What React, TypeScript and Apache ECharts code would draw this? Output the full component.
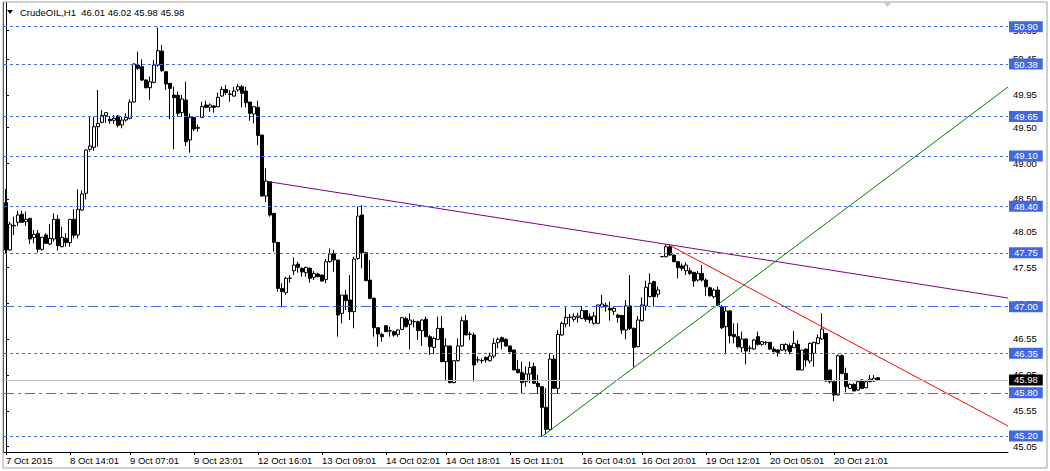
import { useEffect, useRef } from "react";
import * as echarts from "echarts";

// [open, close, low, high] for each hourly bar, oldest first
const candles: number[][] = [
  [48.449, 47.79, 47.743, 48.639],
  [47.79, 48.152, 47.78, 48.184],
  [48.124, 48.133, 47.999, 48.254],
  [48.175, 48.277, 48.124, 48.338],
  [48.287, 48.175, 48.17, 48.338],
  [48.184, 48.217, 48.124, 48.324],
  [48.231, 47.943, 47.873, 48.231],
  [47.961, 48.008, 47.882, 48.068],
  [48.022, 47.799, 47.752, 48.068],
  [47.799, 47.966, 47.78, 47.975],
  [47.999, 47.882, 47.873, 48.022],
  [47.873, 47.952, 47.859, 48.152],
  [47.943, 48.217, 47.906, 48.3],
  [48.217, 47.85, 47.78, 48.277],
  [47.836, 47.966, 47.827, 48.115],
  [47.952, 47.892, 47.836, 48.022],
  [47.892, 48.217, 47.836, 48.217],
  [48.217, 47.994, 47.952, 48.356],
  [48.0, 48.356, 47.952, 48.635],
  [48.347, 48.57, 48.337, 48.616],
  [48.579, 49.182, 48.495, 49.192],
  [49.192, 49.238, 49.159, 49.647],
  [49.22, 49.507, 49.173, 49.647],
  [49.507, 49.554, 49.229, 50.018],
  [49.568, 49.665, 49.554, 49.74],
  [49.661, 49.702, 49.563, 49.702],
  [49.61, 49.591, 49.545, 49.656],
  [49.596, 49.623, 49.545, 49.67],
  [49.656, 49.526, 49.498, 49.67],
  [49.531, 49.6, 49.484, 49.647],
  [49.6, 49.637, 49.577, 49.693],
  [49.623, 49.851, 49.609, 49.888],
  [49.851, 50.38, 49.842, 50.389],
  [50.366, 50.32, 50.297, 50.552],
  [50.343, 50.157, 50.143, 50.445],
  [50.157, 50.05, 50.041, 50.167],
  [50.05, 50.134, 49.879, 50.204],
  [50.125, 50.366, 50.111, 50.436],
  [50.366, 50.566, 50.343, 50.891],
  [50.561, 50.287, 50.273, 50.645],
  [50.273, 50.101, 50.018, 50.273],
  [50.111, 50.041, 49.61, 50.111],
  [49.948, 49.911, 49.192, 50.064],
  [49.944, 49.693, 49.647, 49.995],
  [49.702, 49.893, 49.647, 49.948],
  [49.879, 49.298, 49.238, 50.134],
  [49.322, 49.637, 49.145, 49.693],
  [49.637, 49.475, 49.447, 49.637],
  [49.484, 49.498, 49.438, 49.54],
  [49.637, 49.786, 49.633, 49.855],
  [49.809, 49.777, 49.763, 49.869],
  [49.777, 49.809, 49.716, 49.832],
  [49.795, 49.777, 49.702, 49.809],
  [49.786, 49.916, 49.777, 49.981],
  [49.934, 50.027, 49.925, 50.064],
  [50.027, 49.981, 49.948, 50.087],
  [49.962, 49.958, 49.855, 50.018],
  [49.934, 50.004, 49.925, 50.064],
  [50.018, 50.064, 49.995, 50.101],
  [50.064, 49.971, 49.776, 50.087],
  [50.004, 49.841, 49.776, 50.064],
  [49.85, 49.693, 49.59, 49.85],
  [49.683, 49.786, 49.553, 49.786],
  [49.776, 49.386, 49.252, 49.869],
  [49.391, 48.541, 48.532, 49.391],
  [48.541, 48.75, 48.462, 48.927],
  [48.741, 48.277, 48.253, 48.75],
  [48.3, 47.896, 47.766, 48.3],
  [47.896, 47.255, 47.209, 47.896],
  [47.255, 47.209, 46.99, 47.325],
  [47.195, 47.395, 47.162, 47.418],
  [47.395, 47.398, 47.334, 47.441],
  [47.501, 47.58, 47.441, 47.687],
  [47.594, 47.548, 47.473, 47.627],
  [47.534, 47.483, 47.418, 47.548],
  [47.473, 47.548, 47.418, 47.557],
  [47.534, 47.395, 47.334, 47.548],
  [47.409, 47.464, 47.371, 47.497],
  [47.455, 47.418, 47.409, 47.473],
  [47.441, 47.357, 47.348, 47.441],
  [47.38, 47.627, 47.325, 47.664],
  [47.627, 47.734, 47.613, 47.812],
  [47.743, 47.65, 47.488, 47.789],
  [47.65, 46.884, 46.582, 47.65],
  [46.907, 47.162, 46.768, 47.162],
  [47.162, 47.083, 46.953, 47.232],
  [47.093, 46.93, 46.814, 47.441],
  [46.93, 47.664, 46.698, 47.696],
  [47.673, 48.263, 47.65, 48.393],
  [48.277, 47.752, 47.534, 48.416],
  [47.752, 47.362, 47.362, 47.766],
  [47.371, 47.116, 47.102, 47.65],
  [47.116, 46.707, 46.582, 47.13],
  [46.707, 46.619, 46.443, 46.707],
  [46.614, 46.582, 46.512, 46.638],
  [46.735, 46.652, 46.652, 46.744],
  [46.666, 46.661, 46.582, 46.721],
  [46.652, 46.605, 46.582, 46.666],
  [46.614, 46.675, 46.582, 46.684],
  [46.684, 46.847, 46.675, 46.861],
  [46.833, 46.721, 46.712, 46.861],
  [46.754, 46.814, 46.405, 46.907],
  [46.79, 46.792, 46.712, 46.824],
  [46.79, 46.666, 46.536, 46.805],
  [46.666, 46.814, 46.452, 46.824],
  [46.824, 46.582, 46.573, 46.861],
  [46.582, 46.443, 46.327, 46.605],
  [46.433, 46.559, 46.34, 46.582],
  [46.545, 46.698, 46.536, 46.861],
  [46.698, 46.234, 46.234, 46.87],
  [46.234, 46.453, 45.979, 46.56],
  [46.453, 45.942, 45.933, 46.453],
  [45.942, 46.248, 45.933, 46.248],
  [46.248, 46.453, 46.234, 46.56],
  [46.453, 46.805, 46.443, 46.861],
  [46.805, 46.606, 46.606, 46.884],
  [46.615, 46.617, 46.536, 46.652],
  [46.606, 46.188, 45.956, 46.638],
  [46.258, 46.26, 46.221, 46.304],
  [46.248, 46.25, 46.211, 46.281],
  [46.295, 46.258, 46.221, 46.304],
  [46.248, 46.313, 46.234, 46.36],
  [46.313, 46.49, 46.281, 46.56],
  [46.499, 46.545, 46.42, 46.573],
  [46.568, 46.513, 46.406, 46.582],
  [46.545, 46.453, 46.443, 46.559],
  [46.453, 46.374, 46.36, 46.453],
  [46.397, 46.118, 46.118, 46.397],
  [46.128, 46.081, 46.072, 46.258],
  [46.081, 45.942, 45.793, 46.234],
  [45.956, 46.063, 45.886, 46.165],
  [46.063, 46.155, 45.933, 46.234],
  [46.165, 45.933, 45.933, 46.221],
  [45.933, 45.886, 45.784, 46.049],
  [45.886, 45.598, 45.19, 45.886],
  [45.598, 45.292, 45.227, 45.863],
  [45.292, 46.271, 45.273, 46.35],
  [46.271, 45.863, 45.863, 46.327],
  [45.863, 46.615, 45.793, 46.675],
  [46.606, 46.768, 46.592, 46.791],
  [46.759, 46.852, 46.712, 46.991],
  [46.852, 46.854, 46.722, 46.898],
  [46.824, 46.861, 46.791, 46.907],
  [46.852, 46.87, 46.778, 46.917],
  [46.838, 46.945, 46.824, 47.01],
  [46.945, 46.824, 46.791, 46.954],
  [46.861, 46.814, 46.768, 46.907],
  [46.768, 46.87, 46.745, 46.93],
  [46.768, 47.024, 46.759, 47.024],
  [46.998, 47.037, 46.991, 47.163],
  [47.019, 47.0, 46.93, 47.056],
  [46.977, 46.954, 46.805, 47.07],
  [46.935, 46.977, 46.884, 47.01],
  [46.884, 46.852, 46.778, 46.898],
  [46.879, 46.675, 46.62, 46.884],
  [46.675, 47.01, 46.545, 47.093],
  [47.01, 46.698, 46.675, 47.441],
  [46.698, 46.434, 46.155, 46.712],
  [46.443, 46.815, 46.434, 46.87],
  [46.805, 47.024, 46.791, 47.13],
  [47.01, 47.27, 46.945, 47.363],
  [47.14, 47.325, 47.13, 47.465],
  [47.349, 47.14, 47.0, 47.363],
  [47.172, 47.233, 47.13, 47.279],
  [47.696, 47.698, 47.69, 47.7],
  [47.696, 47.835, 47.687, 47.868],
  [47.835, 47.719, 47.71, 47.868],
  [47.719, 47.627, 47.617, 47.729],
  [47.627, 47.543, 47.394, 47.636],
  [47.566, 47.534, 47.497, 47.603],
  [47.501, 47.58, 47.441, 47.617],
  [47.501, 47.464, 47.441, 47.543],
  [47.478, 47.357, 47.278, 47.487],
  [47.371, 47.464, 47.348, 47.497],
  [47.464, 47.371, 47.348, 47.58],
  [47.371, 47.278, 47.153, 47.394],
  [47.264, 47.153, 47.139, 47.278],
  [47.139, 47.232, 47.116, 47.255],
  [47.232, 47.023, 47.014, 47.278],
  [46.998, 46.707, 46.689, 47.023],
  [46.721, 46.94, 46.336, 46.998],
  [46.94, 46.596, 46.489, 46.954],
  [46.614, 46.582, 46.489, 46.768],
  [46.582, 46.443, 46.42, 46.768],
  [46.429, 46.55, 46.364, 46.652],
  [46.55, 46.382, 46.197, 46.559],
  [46.42, 46.422, 46.364, 46.457],
  [46.41, 46.536, 46.397, 46.55],
  [46.582, 46.475, 46.457, 46.652],
  [46.475, 46.512, 46.457, 46.522],
  [46.499, 46.503, 46.466, 46.522],
  [46.503, 46.41, 46.397, 46.512],
  [46.41, 46.373, 46.364, 46.443],
  [46.396, 46.364, 46.304, 46.41],
  [46.396, 46.475, 46.382, 46.475],
  [46.396, 46.475, 46.364, 46.489],
  [46.457, 46.373, 46.336, 46.489],
  [46.429, 46.489, 46.429, 46.661],
  [46.475, 46.118, 46.118, 46.536],
  [46.118, 46.396, 46.118, 46.396],
  [46.41, 46.257, 46.164, 46.419],
  [46.243, 46.489, 46.21, 46.503],
  [46.35, 46.503, 46.164, 46.512],
  [46.489, 46.568, 46.475, 46.614],
  [46.55, 46.689, 46.536, 46.907],
  [46.628, 45.965, 45.955, 46.628],
  [46.118, 45.955, 45.932, 46.118],
  [45.955, 45.77, 45.686, 45.955],
  [45.77, 46.317, 45.76, 46.336],
  [46.317, 46.071, 46.057, 46.336],
  [46.071, 45.886, 45.807, 46.15],
  [45.862, 45.918, 45.853, 45.932],
  [45.918, 45.825, 45.825, 45.932],
  [45.839, 45.955, 45.825, 45.978],
  [45.978, 45.862, 45.853, 45.992],
  [45.872, 45.955, 45.862, 45.965],
  [45.955, 45.992, 45.946, 46.048],
  [45.965, 46.002, 45.955, 46.048],
  [46.01, 45.98, 45.98, 46.02],
];

const slotCount = 251; // bars + empty chart shift on the right
const timeTickIndex = [0, 16, 31, 47, 63, 79, 95, 110, 126, 144, 159, 175, 191, 207];
const timeTickLabels = [
  "7 Oct 2015", "8 Oct 14:01", "9 Oct 07:01", "9 Oct 23:01", "12 Oct 16:01",
  "13 Oct 09:01", "14 Oct 02:01", "14 Oct 18:01", "15 Oct 11:01", "16 Oct 04:01",
  "16 Oct 20:01", "19 Oct 12:01", "20 Oct 05:01", "20 Oct 21:01",
];
const priceTicks = [45.05, 45.55, 46.05, 46.55, 47.05, 47.55, 48.05, 48.5, 49.0, 49.5, 49.95, 50.45, 50.85];
const dashedLevels = [50.9, 50.38, 49.65, 49.1, 48.4, 47.75, 46.35, 45.2];
const dashDotLevels = [47.0, 45.8];
const bidPrice = 45.98;
const purpleTrend = [[65.6, 48.741], [250.5, 47.121]];
const redTrend = [[165.8, 47.859], [250.5, 45.338]];
const greenTrend = [[133.9, 45.189], [250.5, 50.06]];
const titleText = "CrudeOIL,H1  46.01 46.02 45.98 45.98";

const FONT = '"Liberation Sans", Arial, sans-serif';
const LEVEL_BLUE = "#4169e1";

export default function App() {
  const ref = useRef<HTMLDivElement>(null);

  useEffect(() => {
    if (!ref.current) return;
    const chart = echarts.init(ref.current, undefined, { renderer: "svg" });
    const categories = Array.from({ length: slotCount }, (_, i) => String(i));
    const tickSet = new Set(timeTickIndex);

    const levelLabel = (bg: string) => ({
      show: true,
      position: "end",
      distance: 1,
      color: "#ffffff",
      backgroundColor: bg,
      padding: [1, 5, 0, 5],
      lineHeight: 10,
      fontSize: 9.5,
      fontFamily: FONT,
      formatter: (p: any) => Number(p.value).toFixed(2),
    });

    const markData: any[] = [
      ...dashedLevels.map((v) => ({
        yAxis: v,
        lineStyle: { color: LEVEL_BLUE, type: [3, 3], width: 1 },
        label: levelLabel(LEVEL_BLUE),
      })),
      ...dashDotLevels.map((v) => ({
        yAxis: v,
        lineStyle: { color: LEVEL_BLUE, type: [10, 4, 3, 4], width: 1 },
        label: levelLabel(LEVEL_BLUE),
      })),
      {
        yAxis: bidPrice,
        lineStyle: { color: "#c0c0c0", type: "solid", width: 1 },
        label: levelLabel("#000000"),
      },
    ];

    const trend = (data: number[][], color: string) => ({
      type: "line",
      xAxisIndex: 1,
      yAxisIndex: 0,
      data,
      symbol: "none",
      silent: true,
      z: 4,
      lineStyle: { color, width: 1 },
    });

    chart.setOption({
      animation: false,
      backgroundColor: "#ffffff",
      grid: { left: 4, top: 3, width: 1004, height: 449, containLabel: false },
      xAxis: [
        {
          type: "category",
          data: categories,
          boundaryGap: true,
          axisLine: { show: true, lineStyle: { color: "#000000", width: 1 } },
          axisTick: {
            show: true,
            alignWithLabel: true,
            length: 3,
            lineStyle: { color: "#000000" },
            interval: (index: number) => tickSet.has(index),
          },
          axisLabel: {
            show: true,
            interval: (index: number) => tickSet.has(index),
            formatter: (_v: string, index: number) => {
              const k = timeTickIndex.indexOf(index);
              return k >= 0 ? timeTickLabels[k] : "";
            },
            align: "left",
            margin: 3,
            color: "#000000",
            fontSize: 9.5,
            fontFamily: FONT,
          },
          splitLine: { show: false },
        },
        {
          type: "value",
          min: -0.5,
          max: slotCount - 0.5,
          show: false,
          gridIndex: 0,
        },
      ],
      yAxis: {
        type: "value",
        position: "right",
        min: 44.976,
        max: 51.23,
        scale: true,
        axisLine: { show: true, lineStyle: { color: "#000000", width: 1 } },
        axisTick: { show: true, length: 3, lineStyle: { color: "#000000" }, customValues: priceTicks },
        axisLabel: {
          show: true,
          customValues: priceTicks,
          formatter: (v: number) => v.toFixed(2),
          margin: 5,
          color: "#000000",
          fontSize: 9.5,
          fontFamily: FONT,
        },
        splitLine: { show: false },
      },
      series: [
        {
          type: "line",
          data: [],
          silent: true,
          z: 1,
          markLine: {
            silent: true,
            symbol: ["none", "none"],
            animation: false,
            data: markData,
          },
        },
        {
          type: "candlestick",
          xAxisIndex: 0,
          yAxisIndex: 0,
          data: candles,
          barWidth: 3,
          silent: true,
          z: 3,
          itemStyle: {
            color: "#ffffff",
            color0: "#000000",
            borderColor: "#000000",
            borderColor0: "#000000",
            borderColorDoji: "#000000",
            borderWidth: 1,
          },
        },
        trend(purpleTrend, "#800080"),
        trend(redTrend, "#ff0000"),
        trend(greenTrend, "#008000"),
      ],
      graphic: [
        {
          type: "rect",
          shape: { x: 3, y: 2, width: 1044, height: 466 },
          style: { fill: "none", stroke: "#a0a0a0", lineWidth: 1 },
          silent: true,
          z: 0,
        },
        {
          type: "line",
          shape: { x1: 3.5, y1: 2, x2: 3.5, y2: 452 },
          style: { stroke: "#606060", lineWidth: 1 },
          silent: true,
        },
        {
          type: "polygon",
          shape: { points: [[884, 3], [891, 3], [887.5, 7]] },
          style: { fill: "#c8c8c8" },
          silent: true,
        },
        {
          type: "polygon",
          shape: { points: [[7, 10], [13, 10], [10, 14]] },
          style: { fill: "#000000" },
          silent: true,
        },
        {
          type: "text",
          left: 20,
          top: 7,
          style: { text: titleText, fill: "#000000", fontSize: 9.5, fontFamily: FONT },
          silent: true,
        },
      ],
    });

    return () => chart.dispose();
  }, []);

  return (
    <div
      ref={ref}
      style={{ position: "fixed", left: 0, top: 0, width: 1050, height: 471, background: "#ffffff" }}
    />
  );
}
